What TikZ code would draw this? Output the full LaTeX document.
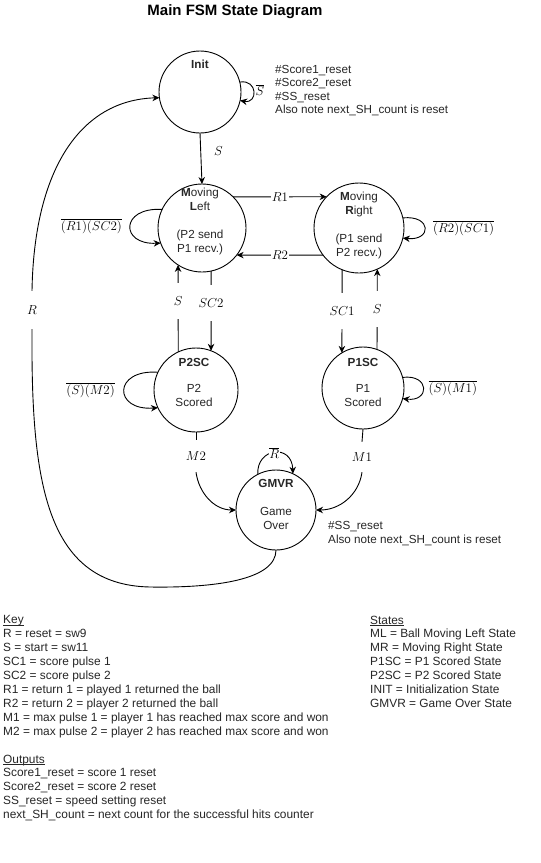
\RequirePackage{fix-cm}
\documentclass[tikz,border=0pt]{standalone}
\usepackage[no-math]{fontspec}
\setmainfont{Liberation Sans}
\usetikzlibrary{arrows.meta}
\newcommand\myul[1]{\setbox0\hbox{#1}\rlap{\rule[-1.9pt]{\wd0}{0.6pt}}\box0}
\tikzset{
  fsmstate/.style={circle, draw, line width=0.9pt, minimum size=#1, inner sep=0pt, outer sep=0pt},
  txt/.style={font=\fontsize{11.7}{14}\selectfont, inner sep=0pt, text=black!85},
  note/.style={font=\fontsize{11.7}{13.4}\selectfont, inner sep=0pt, align=left, text=black!85},
  legend/.style={font=\fontsize{11.9}{13.9}\selectfont, inner sep=0pt, align=left, anchor=north west, text=black!85},
  mlab/.style={font=\fontsize{13}{15}\selectfont, inner sep=1pt},
  gap/.style={fill=white, minimum height=36pt},
  edge/.style={line width=0.9pt, -{Stealth[length=7pt,width=6.5pt]}},
  plain/.style={line width=0.9pt},
}
\begin{document}
\begin{tikzpicture}[x=1pt, y=-1pt]
\useasboundingbox (0,0) rectangle (541,863);

% title
\node[font=\fontsize{15}{18}\selectfont\bfseries, inner sep=0pt] (title) at (235,12) {Main FSM State Diagram};

% states
\node[fsmstate=82pt] (init) at (200,92) {};
\node[fsmstate=88pt] (ml) at (202,228) {};
\node[fsmstate=90pt] (mr) at (359,228) {};
\node[fsmstate=84pt] (p2sc) at (196,390) {};
\node[fsmstate=82pt] (p1sc) at (363,388) {};
\node[fsmstate=80pt] (gmvr) at (276,510) {};

% state texts
\node[txt] (initt) at (200,64) {\textbf{Init}};
\node[txt, align=center] (mlt) at (200,221.5) {\textbf{M}oving\\\textbf{L}eft\\[14pt](P2 send\\P1 recv.)};
\node[txt, align=center] (mrt) at (359,225.5) {\textbf{M}oving\\\textbf{R}ight\\[14pt](P1 send\\P2 recv.)};
\node[txt, align=center] (p2t) at (194,382.5) {\textbf{P2SC}\\[12pt]P2\\Scored};
\node[txt, align=center] (p1t) at (363,382) {\textbf{P1SC}\\[12pt]P1\\Scored};
\node[txt, align=center] (gmt) at (276,504.5) {\textbf{GMVR}\\[14pt]Game\\Over};

% notes
\node[note, anchor=west] (initnote) at (275,90.5) {\#Score1\_reset\\\#Score2\_reset\\\#SS\_reset\\Also note next\_SH\_count is reset};
\node[note, anchor=west] (gmnote) at (328,533.5) {\#SS\_reset\\Also note next\_SH\_count is reset};

% init
\draw[edge] (init.14) .. controls (258,79) and (258,104) .. (init.-12);
\node[mlab, fill=white, inner sep=0.3pt] (sbar) at (260,90) {$\overline{S}$};
\draw[edge] (init.south) -- node[mlab, pos=0.35, right=12pt]{$S$} (ml.north);

% moving left / right
\draw[edge] (ml.45) -- node[mlab, fill=white]{$R1$} (mr.136);
\draw[edge] (mr.217) -- node[mlab, fill=white]{$R2$} (ml.-38);
\draw[edge] (ml.155) .. controls (120,207) and (120,245) .. node[mlab, left=7pt]{$\overline{(R1)(SC2)}$} (ml.200);
\draw[edge] (mr.13) .. controls (432,215) and (432,241) .. node[mlab, right=7pt]{$\overline{(R2)(SC1)}$} (mr.-13);

% vertical links
\draw[edge] (p2sc.115) -- node[mlab, gap, pos=0.58]{$S$} (ml.-123);
\draw[edge] (ml.-78) -- node[mlab, gap, pos=0.4]{$SC2$} (p2sc.69);
\draw[edge] (mr.-112) -- node[mlab, gap, pos=0.5]{$SC1$} (p1sc.121);
\draw[edge] (p1sc.70) -- node[mlab, gap, pos=0.5]{$S$} (mr.-66);

% scored loops
\draw[edge] (p2sc.155) .. controls (113,369) and (113,411) .. node[mlab, left=8pt]{$\overline{(S)(M2)}$} (p2sc.205);
\draw[edge] (p1sc.15) .. controls (430,374) and (430,402) .. node[mlab, right=4pt]{$\overline{(S)(M1)}$} (p1sc.-15);

% to game over
\node[mlab, minimum height=32pt] (m2lab) at (196,456) {$M2$};
\node[mlab, minimum height=30pt] (m1lab) at (362,457) {$M1$};
\draw[plain] (p2sc.south) -- (m2lab.north);
\draw[edge] (m2lab.south) to[out=-82, in=180] (gmvr.west);
\draw[plain] (p1sc.south) -- (m1lab.north);
\draw[edge] (m1lab.south) to[out=-98, in=0] (gmvr.east);
\draw[edge] (gmvr.117) .. controls (256,448) and (292,443) .. node[mlab, fill=white, inner sep=0.5pt]{$\overline{R}$} (gmvr.65);

% reset path
\node[mlab, minimum height=38pt] (rlab) at (32,310) {$R$};
\draw[plain] (gmvr.south) .. controls (276,580) and (215,588) .. (150,587) .. controls (45,585) and (31,480) .. (rlab.south);
\draw[edge] (rlab.north) .. controls (34,170) and (80,100) .. (init.188);

% legends
\node[legend] (key) at (3,615.5) {\myul{Key}\\R = reset = sw9\\S = start = sw11\\SC1 = score pulse 1\\SC2 = score pulse 2\\R1 = return 1 = played 1 returned the ball\\R2 = return 2 = player 2 returned the ball\\M1 = max pulse 1 = player 1 has reached max score and won\\M2 = max pulse 2 = player 2 has reached max score and won};
\node[legend] (outputs) at (3,754.5) {\myul{Outputs}\\Score1\_reset = score 1 reset\\Score2\_reset = score 2 reset\\SS\_reset = speed setting reset\\next\_SH\_count = next count for the successful hits counter};
\node[legend] (states) at (370,615.5) {\myul{States}\\ML = Ball Moving Left State\\MR = Moving Right State\\P1SC = P1 Scored State\\P2SC = P2 Scored State\\INIT = Initialization State\\GMVR = Game Over State};
\end{tikzpicture}
\end{document}
